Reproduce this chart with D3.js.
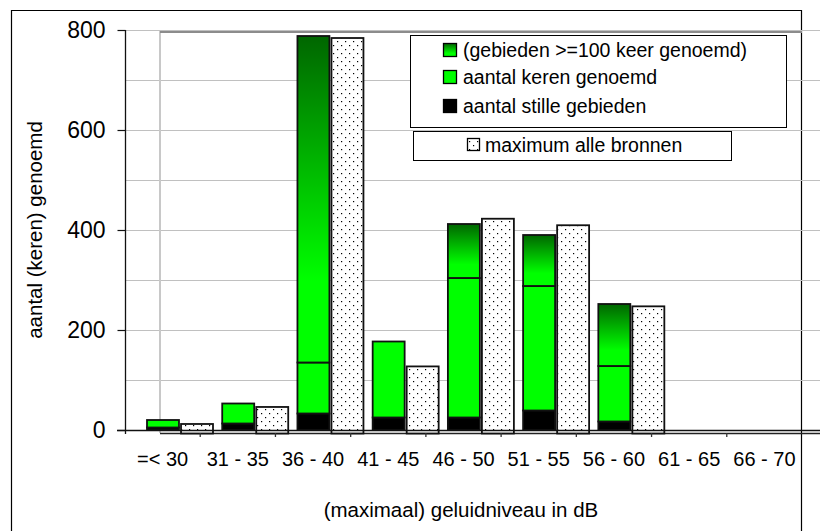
<!DOCTYPE html>
<html><head><meta charset="utf-8">
<script src="https://cdn.jsdelivr.net/npm/d3@7"></script>
<style>body{margin:0;background:#fff}svg{display:block;font-family:"Liberation Sans",Arial,sans-serif}</style>
</head><body><svg id="c" width="820" height="531"></svg>
<script>
const categories = ["=< 30","31 - 35","36 - 40","41 - 45","46 - 50","51 - 55","56 - 60","61 - 65","66 - 70"];
const stilleGebieden = [5,13,33,25,25,39,17,0,0];
const kerenGenoemd = [15,40,102,152,279,249,111,0,0];
const gebieden100 = [0,0,653,0,108,102,124,0,0];
const maximumAlleBronnen = [19,53,790,134,429,416,254,0,0];
const yTicks = [0,200,400,600,800];
const gridValues = [100,200,300,400,500,600,700,800];
const legendLabels = ["(gebieden >=100 keer genoemd)","aantal keren genoemd","aantal stille gebieden"];
const legendLabel2 = "maximum alle bronnen";
const yTitle = "aantal (keren) genoemd";
const xTitle = "(maximaal) geluidniveau in dB";

const svg = d3.select("#c");
const defs = svg.append("defs");
const grad = defs.append("linearGradient").attr("id","g100").attr("x1",0).attr("y1",0).attr("x2",0).attr("y2",1);
grad.append("stop").attr("offset","0").attr("stop-color","#006600");
grad.append("stop").attr("offset","0.75").attr("stop-color","#00ff00");
grad.append("stop").attr("offset","1").attr("stop-color","#00ff00");
const pat = defs.append("pattern").attr("id","dots").attr("patternUnits","userSpaceOnUse").attr("width",8).attr("height",8);
pat.append("rect").attr("width",8).attr("height",8).attr("fill","#fff");
pat.append("rect").attr("x",1).attr("y",1).attr("width",1.2).attr("height",1.2).attr("fill","#000");
pat.append("rect").attr("x",5).attr("y",5).attr("width",1.2).attr("height",1.2).attr("fill","#000");

const x = d3.scaleBand().domain(categories).range([125,802]);
const xSub = d3.scaleBand().domain(["stack","max"]).range([22,88]).paddingInner(0.06);
const y = d3.scaleLinear().domain([0,800]).range([430,30]);
const y2 = d3.scaleLinear().domain([0,800]).range([433.5,33]);

// outer border
svg.append("path").attr("d","M11.5,531V10.5H801.5V531").attr("fill","none").attr("stroke","#000").attr("stroke-width",1.2);

// gridlines
svg.append("g").selectAll("line").data(gridValues).join("line")
  .attr("x1",125).attr("x2",820).attr("y1",d=>y(d)+0.5).attr("y2",d=>y(d)+0.5)
  .attr("stroke","#c0c0c0").attr("stroke-width",1.2);
svg.append("line").attr("x1",160).attr("x2",160).attr("y1",31).attr("y2",433).attr("stroke","#c8c8c8").attr("stroke-width",2);
svg.append("line").attr("x1",160).attr("x2",802).attr("y1",32).attr("y2",32).attr("stroke","#8c8c8c").attr("stroke-width",2);

// lower base line (back)
svg.append("line").attr("x1",160).attr("x2",820).attr("y1",433.5).attr("y2",433.5).attr("stroke","#222").attr("stroke-width",1.3);

// dotted bars
svg.append("g").selectAll("rect").data(categories.map((c,i)=>({c,v:maximumAlleBronnen[i]})).filter(d=>d.v>0)).join("rect")
  .attr("x",d=>x(d.c)+xSub("max")).attr("width",xSub.bandwidth())
  .attr("y",d=>y2(d.v)).attr("height",d=>y2(0)-y2(d.v))
  .attr("fill","url(#dots)").attr("stroke","#111").attr("stroke-width",1.8);

// stacked bars
const rows = categories.map((c,i)=>({c, stille:stilleGebieden[i], keren:kerenGenoemd[i], g100:gebieden100[i]}));
const stack = d3.stack().keys(["stille","keren","g100"])(rows);
const fills = {stille:"#000000", keren:"#00ff00", g100:"url(#g100)"};
svg.append("g").selectAll("g").data(stack).join("g")
  .attr("fill",d=>fills[d.key])
  .selectAll("rect").data(d=>d.filter(s=>s[1]>s[0])).join("rect")
  .attr("x",d=>x(d.data.c)+xSub("stack")).attr("width",xSub.bandwidth())
  .attr("y",d=>y(d[1])).attr("height",d=>y(d[0])-y(d[1]))
  .attr("stroke","#111").attr("stroke-width",1.8);

// front base line
svg.append("line").attr("x1",117).attr("x2",820).attr("y1",430.5).attr("y2",430.5).attr("stroke","#111").attr("stroke-width",1.3);
// boundary ticks
svg.append("g").selectAll("line").data(categories.slice(1)).join("line")
  .attr("x1",d=>x(d)).attr("x2",d=>x(d)).attr("y1",433).attr("y2",437).attr("stroke","#333").attr("stroke-width",1.3);

// y axis
const yAxis = svg.append("g").attr("transform","translate(125.5,0)")
  .call(d3.axisLeft(y).tickValues(yTicks).tickSize(8).tickSizeOuter(0).tickPadding(12));
yAxis.select(".domain").remove();
yAxis.selectAll("text").attr("font-size",23).attr("fill","#000").attr("font-family","Liberation Sans, Arial, sans-serif");
yAxis.selectAll("line").attr("stroke","#111").attr("stroke-width",1.2);
svg.append("line").attr("x1",125.5).attr("x2",125.5).attr("y1",30).attr("y2",434).attr("stroke","#111").attr("stroke-width",1.3);

// x axis labels
const xAxis = svg.append("g").attr("transform","translate(0,430)")
  .call(d3.axisBottom(x).tickSize(0).tickPadding(22));
xAxis.select(".domain").remove();
xAxis.selectAll("text").attr("font-size",20).attr("fill","#000").attr("font-family","Liberation Sans, Arial, sans-serif");

// titles
svg.append("text").attr("transform","translate(42,230) rotate(-90)").attr("text-anchor","middle")
  .attr("font-size",20.5).text(yTitle);
svg.append("text").attr("x",461).attr("y",517).attr("text-anchor","middle").attr("font-size",20.5).text(xTitle);

// legend 1
svg.append("rect").attr("x",410.5).attr("y",35.5).attr("width",376).attr("height",92).attr("fill","#fff").attr("stroke","#000").attr("stroke-width",1);
const lg = svg.append("g");
const legFills = ["url(#g100)","#00ff00","#000"];
const rowsY = [50,77,106];
legendLabels.forEach((t,i)=>{
  lg.append("rect").attr("x",443.5).attr("y",rowsY[i]-6.5).attr("width",13).attr("height",13).attr("fill",legFills[i]).attr("stroke","#000").attr("stroke-width",1.3);
  lg.append("text").attr("x",463).attr("y",rowsY[i]).attr("dy","0.35em").attr("font-size",19.5).text(t);
});
// legend 2
svg.append("rect").attr("x",413.5).attr("y",131.5).attr("width",318).attr("height",29).attr("fill","#fff").attr("stroke","#000").attr("stroke-width",1);
svg.append("rect").attr("x",467.5).attr("y",138.5).attr("width",12).attr("height",12).attr("fill","url(#dots)").attr("stroke","#000").attr("stroke-width",1.3);
svg.append("text").attr("x",485).attr("y",145).attr("dy","0.35em").attr("font-size",19.5).text(legendLabel2);
</script></body></html>
